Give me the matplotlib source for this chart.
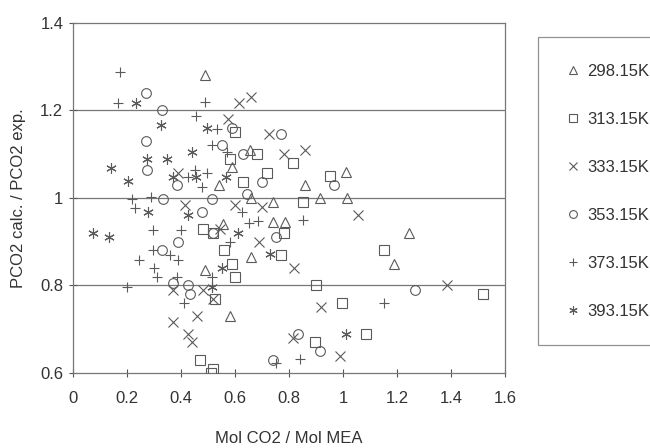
import matplotlib
matplotlib.use("Agg")
import matplotlib.pyplot as plt

plt.rcParams['font.family'] = ['Liberation Sans', 'DejaVu Sans']

# ---- data ----
t298_x = [0.49, 0.59, 0.54, 0.655, 0.66, 0.74, 0.86, 0.915, 1.01, 1.015, 0.74, 0.785, 1.245, 1.19, 0.66, 0.555, 0.58, 0.49]
t298_y = [1.28, 1.07, 1.03, 1.11, 1.0, 0.99, 1.03, 1.0, 1.06, 1.0, 0.945, 0.945, 0.92, 0.85, 0.865, 0.94, 0.73, 0.835]

t313_x = [0.60, 0.68, 0.58, 0.72, 0.63, 0.815, 0.85, 0.95, 1.15, 0.90, 0.995, 1.52, 1.085, 0.895, 0.78, 0.77,
          0.48, 0.52, 0.56, 0.59, 0.60, 0.525, 0.47, 0.52, 0.51]
t313_y = [1.15, 1.10, 1.09, 1.057, 1.037, 1.08, 0.99, 1.05, 0.88, 0.80, 0.76, 0.78, 0.69, 0.67, 0.92, 0.87,
          0.93, 0.92, 0.88, 0.85, 0.82, 0.77, 0.63, 0.61, 0.60]

t333_x = [0.615, 0.66, 0.575, 0.725, 0.78, 0.86, 0.39, 1.055, 0.82, 1.385, 0.92, 0.815, 0.99, 0.70, 0.69,
          0.415, 0.60, 0.37, 0.48, 0.52, 0.37, 0.46, 0.425, 0.44, 0.545]
t333_y = [1.217, 1.23, 1.18, 1.146, 1.10, 1.11, 1.057, 0.96, 0.84, 0.80, 0.75, 0.68, 0.64, 0.98, 0.90,
          0.985, 0.985, 0.79, 0.79, 0.77, 0.717, 0.73, 0.69, 0.67, 0.93]

t353_x = [0.27, 0.33, 0.27, 0.275, 0.59, 0.55, 0.63, 0.77, 0.70, 0.385, 0.335, 0.515, 0.645, 0.967, 1.267,
          0.835, 0.915, 0.74, 0.75, 0.478, 0.33, 0.39, 0.425, 0.52, 0.37, 0.435]
t353_y = [1.24, 1.20, 1.13, 1.065, 1.16, 1.12, 1.10, 1.146, 1.037, 1.03, 0.998, 0.998, 1.01, 1.03, 0.79,
          0.69, 0.65, 0.63, 0.91, 0.968, 0.88, 0.90, 0.80, 0.92, 0.805, 0.78]

t373_x = [0.175, 0.165, 0.49, 0.455, 0.535, 0.515, 0.57, 0.45, 0.425, 0.495, 0.477, 0.22, 0.29, 0.23, 0.296,
          0.296, 0.245, 0.30, 0.31, 0.39, 0.36, 0.40, 0.385, 0.20, 0.41, 0.625, 0.65, 0.685, 0.58, 0.515,
          0.75, 0.84, 0.85, 1.15]
t373_y = [1.288, 1.217, 1.22, 1.187, 1.158, 1.12, 1.105, 1.064, 1.048, 1.057, 1.025, 0.997, 1.002, 0.977, 0.927,
          0.88, 0.858, 0.84, 0.82, 0.858, 0.87, 0.927, 0.82, 0.797, 0.76, 0.968, 0.943, 0.948, 0.90, 0.82,
          0.623, 0.632, 0.95, 0.76]

t393_x = [0.233, 0.326, 0.274, 0.348, 0.14, 0.204, 0.37, 0.44, 0.496, 0.455, 0.567, 0.074, 0.133, 0.278,
          0.425, 0.61, 0.73, 0.552, 0.515, 1.01]
t393_y = [1.217, 1.167, 1.089, 1.089, 1.069, 1.039, 1.048, 1.105, 1.16, 1.048, 1.048, 0.92, 0.91, 0.968,
          0.96, 0.92, 0.872, 0.84, 0.797, 0.69]

labels = ['298.15K', '313.15K', '333.15K', '353.15K', '373.15K', '393.15K']
x_ticks = [0, 0.2, 0.4, 0.6, 0.8, 1, 1.2, 1.4, 1.6]
y_ticks = [0.6, 0.8, 1, 1.2, 1.4]

series = [(t298_x, t298_y), (t313_x, t313_y), (t333_x, t333_y),
          (t353_x, t353_y), (t373_x, t373_y), (t393_x, t393_y)]
markers = ['^', 's', 'x', 'o', '+', (6, 2, 0)]
sizes = [6.5, 6.5, 6.5, 7, 7.5, 7.5]

col = '#5a5a5a'
fig = plt.figure(figsize=(6.5, 4.48), dpi=100)
ax = fig.add_axes([0.1123, 0.1674, 0.6647, 0.7813])

for (xs, ys), m, s, lab in zip(series, markers, sizes, labels):
    ax.plot(xs, ys, linestyle='none', marker=m, markersize=s, markerfacecolor='none',
            markeredgecolor=col, markeredgewidth=0.8, label=lab, zorder=3)

ax.set_xlim(0, 1.6)
ax.set_ylim(0.6, 1.4)
ax.set_xticks(x_ticks)
ax.set_xticklabels(['0', '0.2', '0.4', '0.6', '0.8', '1', '1.2', '1.4', '1.6'])
ax.set_yticks(y_ticks)
ax.set_yticklabels(['0.6', '0.8', '1', '1.2', '1.4'])
for yv in [0.8, 1.0, 1.2]:
    ax.axhline(yv, color='#777777', lw=0.9, zorder=1)
for sp in ax.spines.values():
    sp.set_color('#777777')
    sp.set_linewidth(0.9)
ax.tick_params(axis='x', direction='inout', length=6, color='#555555', labelsize=12, labelcolor='#333333', pad=10)
ax.tick_params(axis='y', direction='inout', length=6, color='#555555', labelsize=12, labelcolor='#333333', pad=4)

ax.set_xlabel('Mol CO2 / Mol MEA', fontsize=12, color='#333333', labelpad=18)
ax.set_ylabel('PCO2 calc. / PCO2 exp.', fontsize=12, color='#333333', labelpad=10)

leg = ax.legend(loc='upper left', bbox_to_anchor=(538/650, 1 - 37/448), bbox_transform=fig.transFigure,
                frameon=True, fancybox=False, fontsize=12, labelspacing=1.98, handletextpad=0.35,
                borderpad=1.6, handlelength=1.0, borderaxespad=0, markerscale=0.8)
leg.get_frame().set_edgecolor('#777777')
leg.get_frame().set_linewidth(0.9)
for t in leg.get_texts():
    t.set_color('#333333')

fig.savefig('out.png', dpi=100, facecolor='white')
